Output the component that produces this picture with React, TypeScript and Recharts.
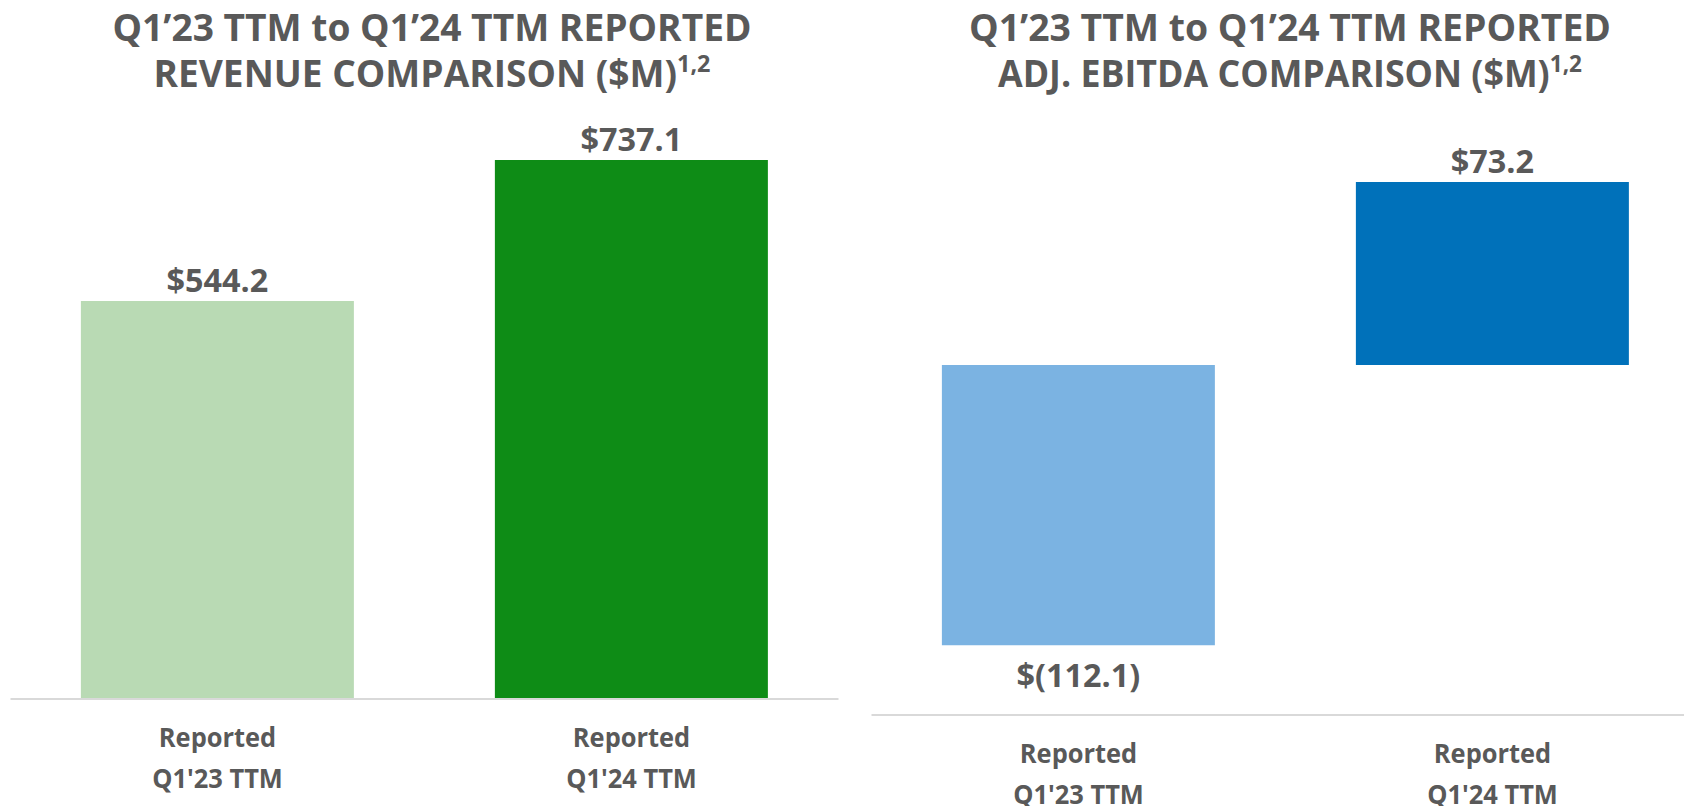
import React from 'react';
import { BarChart, Bar, XAxis, YAxis, Cell, LabelList } from 'recharts';

const categories = ["Reported Q1'23 TTM", "Reported Q1'24 TTM"];
const revenueValues = [544.2, 737.1];
const ebitdaValues = [-112.1, 73.2];
const revenueColors = ['#B9DAB4', '#0E8C16'];
const ebitdaColors = ['#7BB3E2', '#0071BA'];
const revenueTitle = ['Q1’23 TTM to Q1’24 TTM REPORTED', 'REVENUE COMPARISON ($M)'];
const ebitdaTitle = ['Q1’23 TTM to Q1’24 TTM REPORTED', 'ADJ. EBITDA COMPARISON ($M)'];
const footnoteMark = '1,2';

const revenueData = categories.map((c, i) => ({ category: c, value: revenueValues[i] }));
const ebitdaData = categories.map((c, i) => ({ category: c, value: ebitdaValues[i] }));

const TEXT = '#595959';
const FONT = '"Open Sans", sans-serif';

const formatMoney = (v: number) => (v < 0 ? `$(${Math.abs(v).toFixed(1)})` : `$${v.toFixed(1)}`);

const ValueLabel = (props: any) => {
  const { x, y, width, height, value } = props;
  const top = Math.min(y, y + height);
  const bottom = Math.max(y, y + height);
  const cx = x + width / 2;
  const ty = value >= 0 ? top - 9 : bottom + 42;
  return (
    <text
      transform={`translate(${cx} ${ty}) scale(0.98 1)`}
      textAnchor="middle"
      fill={TEXT}
      fontFamily={FONT}
      fontWeight={700}
      fontSize={33}
    >
      {formatMoney(value)}
    </text>
  );
};

const TwoLineTick = (props: any) => {
  const { x, y, payload } = props;
  const label: string = payload.value;
  const cut = label.indexOf(' ');
  const lines = [label.slice(0, cut), label.slice(cut + 1)];
  return (
    <g>
      {lines.map((l, i) => (
        <text
          key={i}
          transform={`translate(${x} ${y + (i === 0 ? 48 : 89)}) scale(0.96 1)`}
          textAnchor="middle"
          fill={TEXT}
          fontFamily={FONT}
          fontWeight={700}
          fontSize={26.5}
        >
          {l}
        </text>
      ))}
    </g>
  );
};

const Title = ({ lines, cx, widths }: { lines: string[]; cx: number; widths: number[] }) => (
  <svg width={842} height={110} style={{ position: 'absolute', left: 0, top: 0 }}>
    <text x={cx} y={41} textAnchor="middle" fill={TEXT} fontFamily={FONT} fontWeight={700} fontSize={38}
      textLength={widths[0]} lengthAdjust="spacingAndGlyphs">
      {lines[0]}
    </text>
    <text x={cx} y={87} textAnchor="middle" fill={TEXT} fontFamily={FONT} fontWeight={700} fontSize={38}
      textLength={widths[1]} lengthAdjust="spacingAndGlyphs">
      {lines[1]}
      <tspan dy={-15} fontSize={24}>{footnoteMark}</tspan>
    </text>
  </svg>
);

const App = () => {
  return (
    <div style={{ position: 'relative', width: 1684, height: 806, overflow: 'hidden', background: '#fff' }}>
      <style>{`body{margin:0}`}</style>

      {/* Revenue */}
      <div style={{ position: 'absolute', left: 0, top: 0, width: 842, height: 806 }}>
        <BarChart width={842} height={806} data={revenueData}
          margin={{ top: 114, right: 3.5, left: 10.5, bottom: 0 }} barCategoryGap="17%">
          <XAxis dataKey="category" height={107} tickLine={false} tickSize={0} tickMargin={0}
            axisLine={{ stroke: '#D9D9D9', strokeWidth: 2 }} interval={0}
            tick={<TwoLineTick />} />
          <YAxis hide width={0} domain={[0, 800]} />
          <Bar dataKey="value" isAnimationActive={false}>
            {revenueData.map((d, i) => <Cell key={d.category} fill={revenueColors[i]} />)}
            <LabelList dataKey="value" content={<ValueLabel />} />
          </Bar>
        </BarChart>
        <Title lines={revenueTitle} cx={432} widths={[639, 557]} />
      </div>

      {/* Adj. EBITDA */}
      <div style={{ position: 'absolute', left: 842, top: 0, width: 842, height: 806, overflow: 'hidden' }}>
        <BarChart width={858} height={806} data={ebitdaData}
          margin={{ top: 115, right: 0.5, left: 29.5, bottom: 0 }} barCategoryGap="17%">
          <XAxis dataKey="category" height={91} tickLine={false} tickSize={0} tickMargin={0}
            axisLine={{ stroke: '#D9D9D9', strokeWidth: 2 }} interval={0}
            tick={<TwoLineTick />} />
          <YAxis hide width={0} domain={[-140, 100]} />
          <Bar dataKey="value" isAnimationActive={false}>
            {ebitdaData.map((d, i) => <Cell key={d.category} fill={ebitdaColors[i]} />)}
            <LabelList dataKey="value" content={<ValueLabel />} />
          </Bar>
        </BarChart>
        <Title lines={ebitdaTitle} cx={448} widths={[642, 584]} />
      </div>
    </div>
  );
};

export default App;
